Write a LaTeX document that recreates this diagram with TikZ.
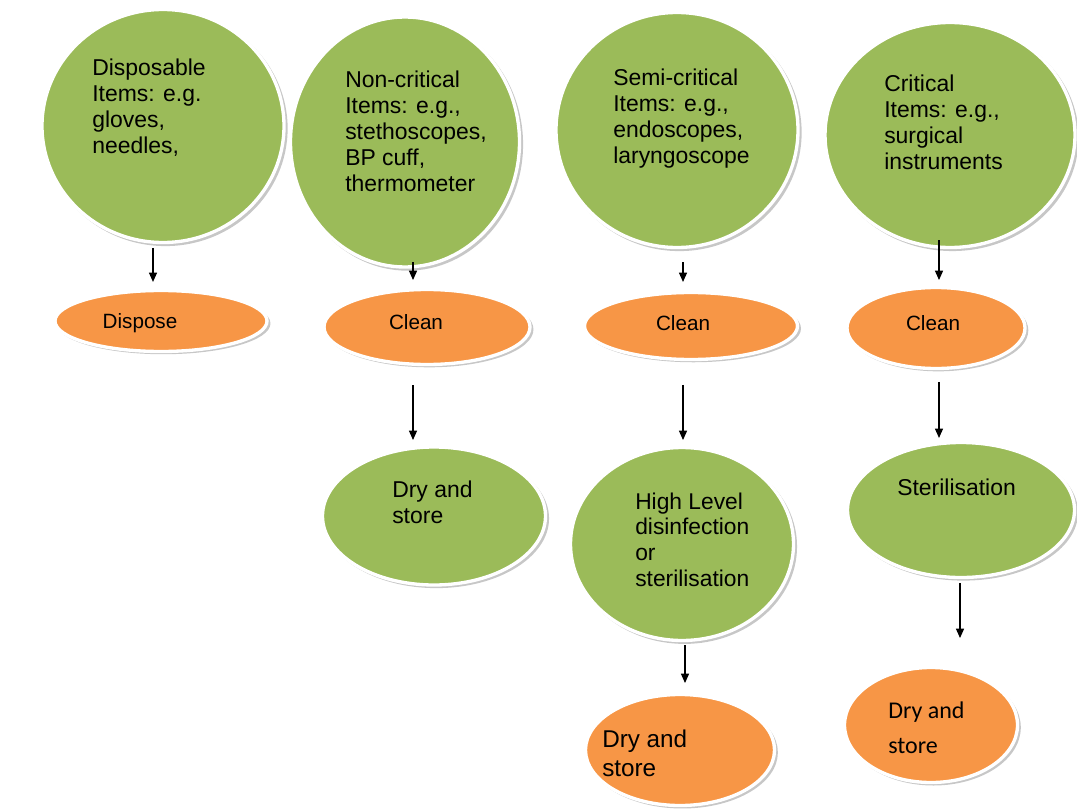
\documentclass[tikz,border=0pt]{standalone}
\usepackage{fontspec}
\setmainfont{Liberation Sans}
\newfontfamily\carlito{Carlito}
\usetikzlibrary{shapes.geometric,shadows,arrows.meta}
\definecolor{leafgreen}{HTML}{9BBB59}
\definecolor{peach}{HTML}{F79646}

\begin{document}
\begin{tikzpicture}[x=0.75pt, y=-0.75pt,
    blob/.style={ellipse, inner sep=0pt, outer sep=0pt, draw=white, line width=2.5pt,
      drop shadow={shadow xshift=1.8pt, shadow yshift=-1.8pt, shadow scale=1.01, fill=black!22, opacity=1}},
    green node/.style={blob, fill=leafgreen},
    orange node/.style={blob, fill=peach},
    item text/.style={anchor=base west, inner sep=0pt, align=left, font=\fontsize{17.2}{19.5}\selectfont},
    step text/.style={anchor=base, inner sep=0pt, font=\fontsize{15.5}{18}\selectfont},
    flow/.style={-{Triangle[length=7pt,width=6pt]}, line width=0.9pt}]

  \useasboundingbox (0,0) rectangle (1077,809);

  % first row: kinds of items
  \node[green node, minimum width=181.5pt, minimum height=174.75pt] (disposable) at (163,126) {};
  \node[green node, minimum width=171.75pt, minimum height=187.5pt] (noncritical) at (405,142) {};
  \node[green node, minimum width=181.5pt, minimum height=176.25pt] (semicritical) at (677,130) {};
  \node[green node, minimum width=187.5pt, minimum height=168.75pt] (critical) at (950,135) {};

  % texts sit on the baseline of their last line
  \node[item text] (disposable text) at (92,154) {Disposable\\Items: e.g.\\gloves,\\needles,};
  \node[item text] (noncritical text) at (345,192) {Non-critical\\Items: e.g.,\\stethoscopes,\\BP cuff,\\thermometer};
  \node[item text] (semicritical text) at (613,164) {Semi-critical\\Items: e.g.,\\endoscopes,\\laryngoscope};
  \node[item text] (critical text) at (884,170) {Critical\\Items: e.g.,\\surgical\\instruments};

  % second row
  \node[orange node, minimum width=159pt, minimum height=45.75pt] (dispose) at (161,321) {};
  \node[orange node, minimum width=154.5pt, minimum height=56.25pt] (clean2) at (427,327) {};
  \node[orange node, minimum width=159.75pt, minimum height=50.25pt] (clean3) at (691,326) {};
  \node[orange node, minimum width=133.5pt, minimum height=60.75pt] (clean4) at (936,328) {};

  \node[step text] (dispose text) at (140,328) {Dispose};
  \node[step text] (clean2 text) at (416,329) {Clean};
  \node[step text] (clean3 text) at (683,330) {Clean};
  \node[step text] (clean4 text) at (933,330) {Clean};

  % third row
  \node[green node, minimum width=167.25pt, minimum height=103.5pt] (dry2) at (434,516) {};
  \node[green node, minimum width=167.25pt, minimum height=144.75pt] (hld3) at (682,544) {};
  \node[green node, minimum width=170.25pt, minimum height=101.25pt] (steril4) at (961,510) {};

  \node[item text] (dry2 text) at (392,523) {Dry and\\store};
  \node[item text, font=\fontsize{17.1}{19.2}\selectfont] (hld3 text) at (635,586) {High Level\\disinfection\\or\\sterilisation};
  \node[item text] (steril4 text) at (897,495) {Sterilisation};

  % last row
  \node[orange node, minimum width=141.75pt, minimum height=83.25pt] (dry3) at (680,750) {};
  \node[orange node, minimum width=129.75pt, minimum height=86.25pt] (dry4) at (931,725) {};

  \node[item text, font=\fontsize{18.2}{21.75}\selectfont] (dry3 text) at (602,776) {Dry and\\store};
  \node[item text, font=\carlito\fontsize{18}{26.25}\selectfont] (dry4 text) at (888,753) {Dry and\\store};

  % arrows
  \draw[flow, shorten <=4.1pt, shorten >=6.4pt] (disposable.south -| 153,0) -- (dispose.north -| 153,0);
  \draw[flow, shorten <=-3.75pt, shorten >=7.1pt] (noncritical.south -| 413,0) -- (clean2.north -| 413,0);
  \draw[flow, shorten <=10.9pt, shorten >=7.9pt] (semicritical.south -| 683,0) -- (clean3.north -| 683,0);
  \draw[flow, shorten <=-5.6pt, shorten >=5.6pt] (critical.south -| 939,0) -- (clean4.north -| 939,0);
  \draw[flow, shorten <=15.4pt, shorten >=5.25pt] (clean2.south -| 413,0) -- (dry2.north -| 413,0);
  \draw[flow, shorten <=19.1pt, shorten >=5.6pt] (clean3.south -| 683,0) -- (hld3.north -| 683,0);
  \draw[flow, shorten <=10.1pt, shorten >=3.4pt] (clean4.south -| 939,0) -- (steril4.north -| 939,0);
  \draw[flow, shorten <=3.4pt, shorten >=8.6pt] (hld3.south -| 685,0) -- (dry3.north -| 685,0);
  \draw[flow, shorten <=4.1pt, shorten >=22.1pt] (steril4.south -| 960,0) -- (dry4.north -| 960,0);
\end{tikzpicture}
\end{document}
